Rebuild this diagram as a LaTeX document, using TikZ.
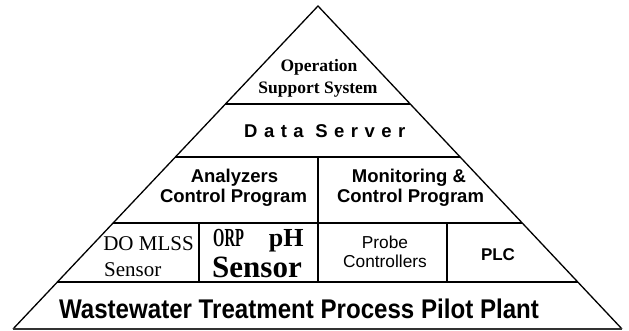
\documentclass[tikz,border=0pt]{standalone}
\usepackage{fontspec}
\setmainfont{Liberation Serif}
\newfontfamily\arialf{Liberation Sans}
\newfontfamily\arialsp[LetterSpace=35]{Liberation Sans}
\usetikzlibrary{calc}
\tikzset{
  txt/.style={inner sep=0pt, anchor=base},
  sansb/.style={txt, font=\arialf\bfseries\fontsize{18.5}{20}\selectfont},
  sansr/.style={txt, font=\arialf\fontsize{17.3}{19}\selectfont},
  serifb/.style={txt, font=\bfseries\fontsize{17.5}{19}\selectfont},
  serifr/.style={txt, font=\fontsize{21}{23}\selectfont},
  edge/.style={line width=1.3pt, black},
}
\begin{document}
\begin{tikzpicture}[x=1pt,y=-1pt]
\useasboundingbox (0,0) rectangle (629,331);
\coordinate (apex) at (318,6);
\coordinate (bl) at (13,329);
\coordinate (br) at (622,329);
% level lines endpoints
\coordinate (l1) at ($(apex)!0.3034!(bl)$);
\coordinate (r1) at ($(apex)!0.3034!(br)$);
\coordinate (l2) at ($(apex)!0.4675!(bl)$);
\coordinate (r2) at ($(apex)!0.4675!(br)$);
\coordinate (l3) at ($(apex)!0.6718!(bl)$);
\coordinate (r3) at ($(apex)!0.6718!(br)$);
\coordinate (l4) at ($(apex)!0.8545!(bl)$);
\coordinate (r4) at ($(apex)!0.8545!(br)$);
% vertical dividers
\coordinate (c2) at (318,157);
\coordinate (c4) at (318,282);
\coordinate (a3) at (199,223);
\coordinate (a4) at (199,282);
\coordinate (b3) at (447,223);
\coordinate (b4) at (447,282);

\draw[edge] (bl) -- (apex) -- (br);
\draw[line width=2.4pt, black!80] (bl) -- (br);
\draw[line width=2.6pt] (l1) -- (r1);
\draw[edge] (l2) -- (r2);
\draw[edge] (l3) -- (r3);
\draw[edge] (l4) -- (r4);
\draw[edge] (c2) -- (c4);
\draw[edge] (a3) -- (a4);
\draw[edge] (b3) -- (b4);

% texts
\node[serifb] (oss1) at (319,72) {Operation};
\node[serifb] (oss2) at (318,94) {Support System};
\node[txt, anchor=base west, font=\arialsp\bfseries\fontsize{18.5}{20}\selectfont] (ds) at (244,138) {Data Server};
\node[sansb] (an1) at (234.5,183) {Analyzers};
\node[sansb] (an2) at (233.5,202.7) {Control Program};
\node[sansb] (mo1) at (409,183) {Monitoring \&};
\node[sansb] (mo2) at (410.5,202.7) {Control Program};
\node[serifr] (do1) at (148.5,250) {DO MLSS};
\node[serifr, anchor=base west] (do2) at (104,276) {Sensor};
\node[txt, anchor=base west, font=\bfseries\fontsize{26}{28}\selectfont] (orp1) at (213,247) {\scalebox{0.56}[1]{ORP}\hspace{25pt}pH};
\node[txt, font=\bfseries\fontsize{31}{33}\selectfont] (orp2) at (257,277) {Sensor};
\node[sansr] (pr1) at (385,248) {Probe};
\node[sansr] (pr2) at (385,267) {Controllers};
\node[txt, font=\arialf\bfseries\fontsize{17}{19}\selectfont] (plc) at (498,260) {PLC};
\node[txt, font=\arialf\bfseries\fontsize{24.1}{26}\selectfont] (ww) at (299,318) {\scalebox{1}[1.12]{Wastewater Treatment Process Pilot Plant}};
\end{tikzpicture}
\end{document}
